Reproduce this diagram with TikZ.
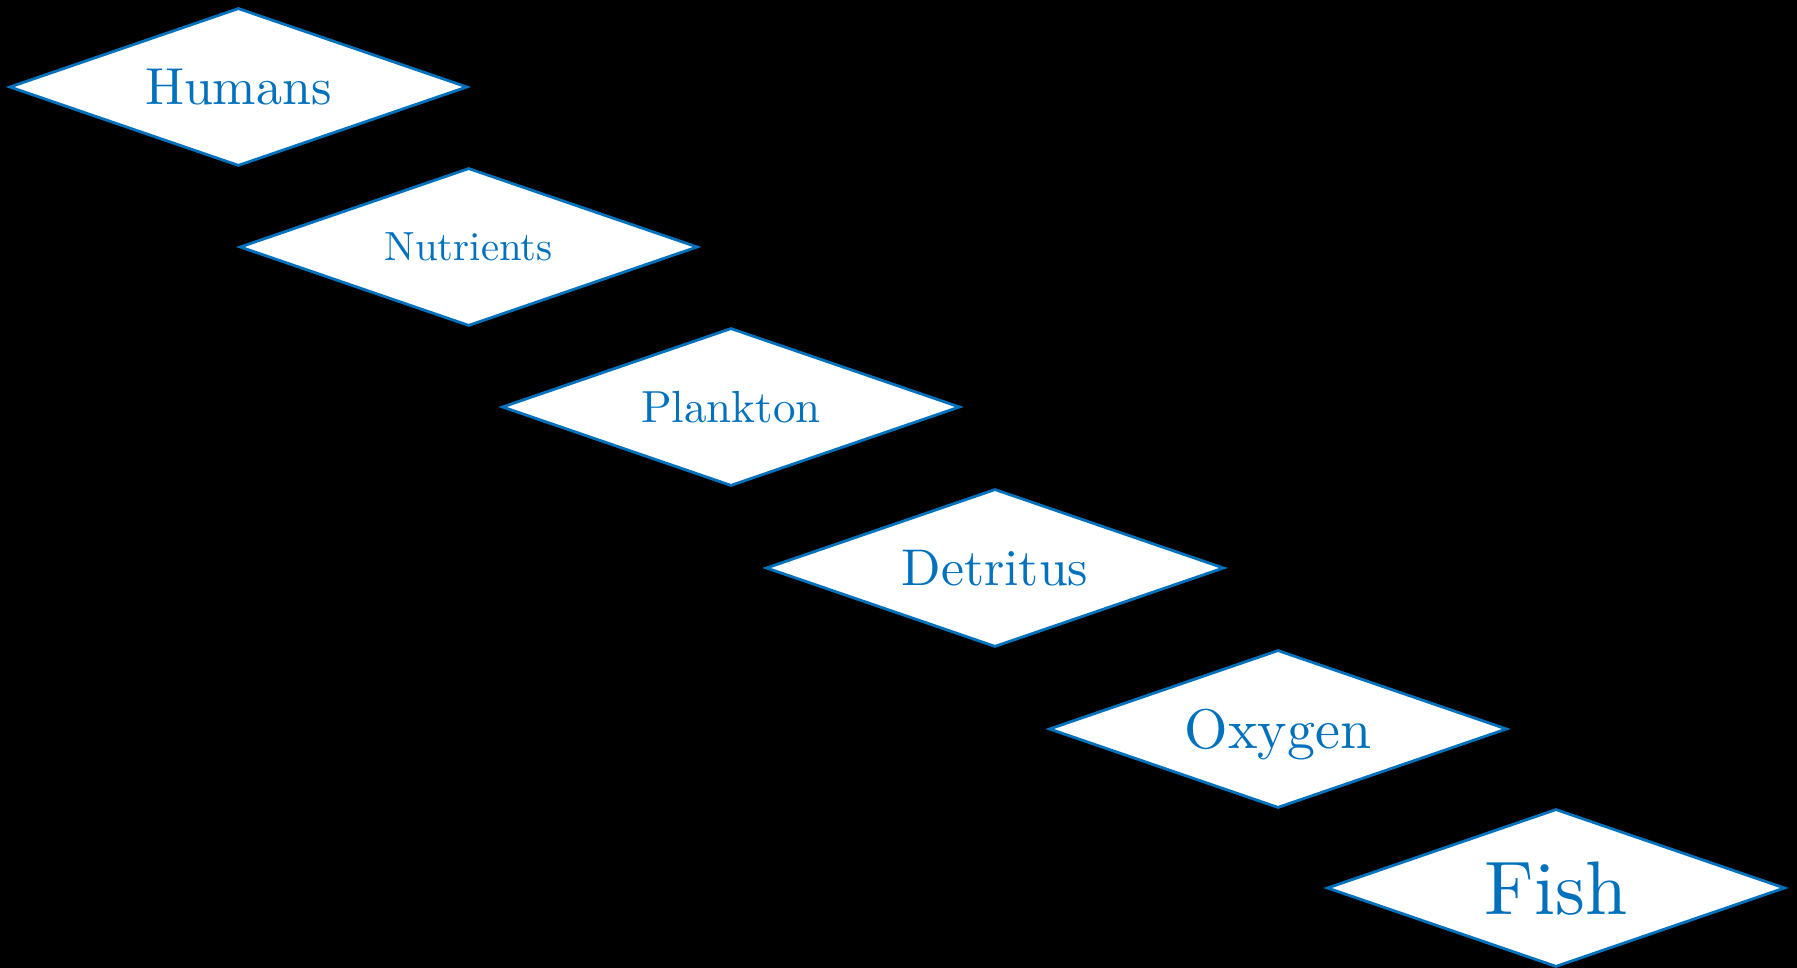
\documentclass[tikz,border=0pt]{standalone}
\usepackage{fontspec}
\setmainfont{lmroman10-regular}[Extension=.otf]
\usepackage{tikz}
\usetikzlibrary{shapes.geometric}
\definecolor{stockblue}{RGB}{0,113,188}

\begin{document}
\begin{tikzpicture}[
  x=1cm,y=1cm,
  stock/.style={diamond,aspect=2.9,draw=stockblue,line width=0.8pt,fill=white,
                minimum width=4.58cm,minimum height=1.58cm,inner sep=0pt,
                text depth=0pt,text=stockblue}
]
% ---------- page
\fill[black] (0,0) rectangle (17.97,-9.68);
\useasboundingbox (0,0) rectangle (17.97,-9.68);
% ---------- stocks
\node[stock] (humans)    at (2.384,-0.870) {\fontsize{14.8}{17}\selectfont Humans};
\node[stock] (nutrients) at (4.687,-2.470) {\fontsize{11.6}{14}\selectfont Nutrients};
\node[stock] (plankton)  at (7.310,-4.070) {\fontsize{12.8}{15}\selectfont Plankton};
\node[stock] (detritus)  at (9.950,-5.680) {\fontsize{14.7}{17}\selectfont Detritus};
\node[stock] (oxygen)    at (12.780,-7.290) {\fontsize{15.9}{19}\selectfont Oxygen};
\node[stock] (fish)      at (15.560,-8.880) {\fontsize{21.6}{26}\selectfont Fish};
\end{tikzpicture}
\end{document}
